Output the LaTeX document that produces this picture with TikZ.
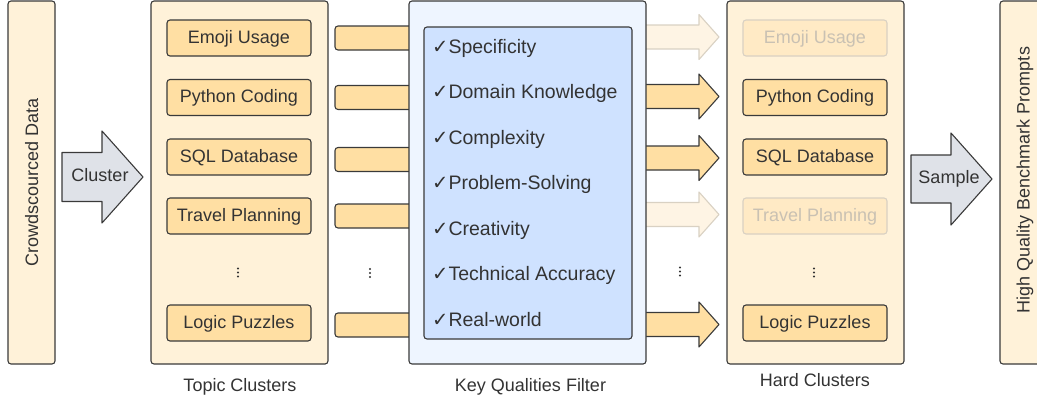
\documentclass[tikz,border=0pt]{standalone}
\usepackage{fontspec}
\setmainfont{Liberation Sans}
\newfontfamily\ckfont{DejaVu Sans}
\definecolor{cream}{HTML}{FFF2D9}
\definecolor{orng}{HTML}{FFDFA3}
\definecolor{lblue}{HTML}{EEF5FF}
\definecolor{mblue}{HTML}{CFE2FF}
\definecolor{gry}{HTML}{DFE2E8}
\definecolor{edge}{HTML}{3A3A3A}
\definecolor{txt}{HTML}{333333}
\definecolor{fadefill}{HTML}{FEF4E4}
\definecolor{fadeedge}{HTML}{D9D1C3}
\definecolor{fadetxt}{HTML}{C9C1B3}
\definecolor{fadebox}{HTML}{FFEAC5}
\newcommand\fatarrow[2]{%
  \draw[#2] (640,#1-12) -- (699,#1-12) -- (699,#1-22.5) -- (719,#1) -- (699,#1+22.5) -- (699,#1+12) -- (640,#1+12);}
\newcommand\leftbar[1]{%
  \draw[barstyle] (415,#1-12) -- (335,#1-12) -- (335,#1+12) -- (415,#1+12);}
\newcommand\vdotsat[2]{%
  \fill[txt] (#1,#2-4) circle[radius=1.15pt] (#1,#2) circle[radius=1.15pt] (#1,#2+4) circle[radius=1.15pt];}
\begin{document}
\begin{tikzpicture}[x=1pt,y=-1pt,
  lw/.style={line width=1.1pt},
  panel/.style={draw=edge, lw, rounded corners=3pt, fill=cream, minimum height=363pt, inner sep=0pt},
  item/.style={draw=edge, lw, rounded corners=3pt, fill=orng, minimum width=144pt, minimum height=36pt,
     text=txt, font=\fontsize{18}{20}\selectfont, inner sep=0pt, text height=14pt, text depth=3.5pt},
  faded/.style={item, draw=fadeedge, fill=fadebox, text=fadetxt},
  lbl/.style={text=txt, font=\fontsize{18}{20}\selectfont, inner sep=0pt, anchor=base},
  vlbl/.style={text=txt, font=\fontsize{18}{20}\selectfont, inner sep=0pt, rotate=90, text height=13pt, text depth=0pt},
  qual/.style={text=txt, font=\fontsize{19.5}{22}\selectfont, inner sep=0pt, anchor=base west},
  barstyle/.style={draw=edge, lw, fill=orng, rounded corners=3pt},
  okarrow/.style={draw=edge, lw, fill=orng, line join=round},
  fadearrow/.style={draw=fadeedge, lw, fill=fadefill, line join=round},
  bigarrow/.style={draw=edge, lw, fill=gry, line join=round}
]
\useasboundingbox (0,0) rectangle (1037,400);

% left bars and right arrows (under the filter panel)
\leftbar{38}
\leftbar{97.5}
\leftbar{159.5}
\leftbar{216}
\leftbar{325}
\fatarrow{37}{fadearrow}
\fatarrow{96.5}{okarrow}
\fatarrow{158}{okarrow}
\fatarrow{214.5}{fadearrow}
\fatarrow{324.5}{okarrow}

% panels
\node[panel, minimum width=47pt] (crowd) at (31.5,182.5) {};
\node[vlbl] (crowdt) at (31.5,182.5) {Crowdscourced Data};
\node[panel, minimum width=177pt] (topic) at (239.5,182.5) {};
\node[panel, minimum width=237pt, fill=lblue] (filter) at (527.5,182.5) {};
\node[panel, minimum width=208pt, minimum height=312pt, fill=mblue] (filterin) at (528,183) {};
\node[panel, minimum width=177pt] (hard) at (815.5,182.5) {};
\node[panel, minimum width=47pt] (hq) at (1023.5,182.5) {};
\node[vlbl] (hqt) at (1023,180) {High Quality Benchmark Prompts};

% big arrows
\draw[bigarrow] (62,152.5) -- (102,152.5) -- (102,131) -- (143,177) -- (102,223) -- (102,201.5) -- (62,201.5) -- cycle;
\node[lbl] (clustert) at (100,181.5) {Cluster};
\draw[bigarrow] (911,155) -- (951,155) -- (951,133) -- (992,179) -- (951,225) -- (951,203) -- (911,203) -- cycle;
\node[lbl] (samplet) at (949,183) {Sample};

% topic items
\node[item] (t1) at (239,38) {Emoji Usage};
\node[item] (t2) at (239,97.5) {Python Coding};
\node[item] (t3) at (239,157) {SQL Database};
\node[item] (t4) at (239,216) {Travel Planning};
\node[item] (t5) at (239,323) {Logic Puzzles};

% hard items
\node[faded] (h1) at (815,38) {Emoji Usage};
\node[item] (h2) at (815,97.5) {Python Coding};
\node[item] (h3) at (815,157) {SQL Database};
\node[faded] (h4) at (815,216) {Travel Planning};
\node[item] (h5) at (815,323) {Logic Puzzles};

% vertical ellipses
\vdotsat{238}{272.5}
\vdotsat{370}{273}
\vdotsat{680}{271.5}
\vdotsat{814}{272.5}

% qualities
\node[qual] (q1) at (432,53.3) {{\ckfont ✓}Specificity};
\node[qual] (q2) at (432,98.8) {{\ckfont ✓}Domain Knowledge};
\node[qual] (q3) at (432,144.3) {{\ckfont ✓}Complexity};
\node[qual] (q4) at (432,189.8) {{\ckfont ✓}Problem-Solving};
\node[qual] (q5) at (432,235.3) {{\ckfont ✓}Creativity};
\node[qual] (q6) at (432,280.8) {{\ckfont ✓}Technical Accuracy};
\node[qual] (q7) at (432,326.3) {{\ckfont ✓}Real-world};

% captions
\node[lbl] (cap1) at (240,391) {Topic Clusters};
\node[lbl] (cap2) at (530.5,391) {Key Qualities Filter};
\node[lbl] (cap3) at (815,386.5) {Hard Clusters};
\end{tikzpicture}
\end{document}
